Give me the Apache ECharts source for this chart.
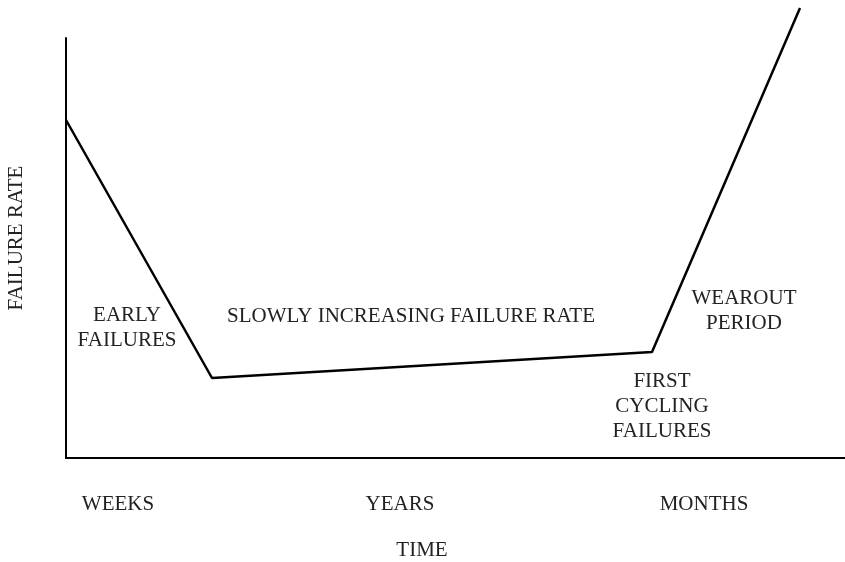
<!DOCTYPE html>
<html>
<head>
<meta charset="utf-8">
<script src="https://cdn.jsdelivr.net/npm/echarts@6/dist/echarts.min.js"></script>
<style>
  html, body { margin: 0; padding: 0; background: #fff; }
  #chart { width: 845px; height: 562px; }
</style>
</head>
<body>
<div id="chart"></div>
<script>
// Bathtub curve: failure rate over the life of a component
const timeValues = [0, 146, 586, 734];
const rateValues = [338, 80, 106, 450];
const timeLabels = ['WEEKS', 'YEARS', 'MONTHS'];
const timeLabelAt = [52, 334, 638];
const phaseNames = ['EARLY\nFAILURES', 'SLOWLY INCREASING FAILURE RATE', 'FIRST\nCYCLING\nFAILURES', 'WEAROUT\nPERIOD'];

// Where each phase caption sits, in axis units
const phaseAnchors = [[61, 130], [345, 142], [596, 52], [678, 147]];

const FONT = '"Liberation Serif", "DejaVu Serif", serif';
const TEXT_COLOR = '#222';

const chart = echarts.init(document.getElementById('chart'));

chart.setOption({
  animation: false,
  backgroundColor: '#fff',
  grid: { left: 66, top: 38, width: 779, height: 420 },
  xAxis: {
    type: 'value', min: 0, max: 779,
    axisLine: { show: true, lineStyle: { color: '#000', width: 2 } },
    axisTick: { show: false }, axisLabel: { show: false }, splitLine: { show: false }
  },
  yAxis: {
    type: 'value', min: 0, max: 420,
    axisLine: { show: true, lineStyle: { color: '#000', width: 2 } },
    axisTick: { show: false }, axisLabel: { show: false }, splitLine: { show: false }
  },
  series: [{
    type: 'line',
    data: timeValues.map((t, i) => [t, rateValues[i]]),
    symbol: 'none',
    clip: false,
    lineStyle: { color: '#000', width: 2.5 }
  }]
});

const textStyle = (text, x, y, extra) => Object.assign({
  type: 'text',
  x, y,
  style: {
    text,
    font: '21px ' + FONT,
    fill: TEXT_COLOR,
    align: 'center',
    verticalAlign: 'middle',
    lineHeight: 25
  }
}, extra || {});

const graphics = [];
phaseNames.forEach((name, i) => {
  const p = chart.convertToPixel({ gridIndex: 0 }, phaseAnchors[i]);
  graphics.push(textStyle(name, p[0], p[1]));
});
timeLabels.forEach((label, i) => {
  const x = chart.convertToPixel({ xAxisIndex: 0 }, timeLabelAt[i]);
  graphics.push(textStyle(label, x, 504));
});
graphics.push(textStyle('TIME', 422, 550));
graphics.push(textStyle('FAILURE RATE', 16, 238, { rotation: Math.PI / 2 }));

chart.setOption({ graphic: graphics });
</script>
</body>
</html>
